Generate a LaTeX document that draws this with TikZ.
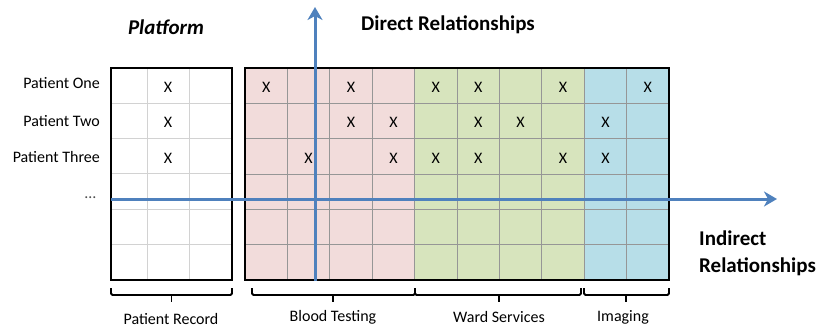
\documentclass[tikz,border=0pt]{standalone}
\usepackage{fontspec}
\setmainfont{Carlito}
\usetikzlibrary{arrows.meta}
\definecolor{pinkfill}{RGB}{242,220,219}
\definecolor{greenfill}{RGB}{215,228,189}
\definecolor{bluefill}{RGB}{183,222,232}
\definecolor{axisblue}{RGB}{79,129,189}
\definecolor{gridlight}{RGB}{210,210,210}
\definecolor{griddark}{RGB}{150,150,150}
\tikzset{
  smalltext/.style={font=\fontsize{16}{19}\selectfont, inner sep=0pt},
  titletext/.style={font=\fontsize{21}{27}\selectfont\bfseries, inner sep=0pt},
  tick/.style={smalltext},
  frame/.style={line width=2pt, black},
  axis/.style={line width=3pt, axisblue, -{Stealth[length=13pt,width=15pt,inset=4pt]}},
  bracket/.style={line width=1.8pt, black, rounded corners=1.5pt}
}
\begin{document}
\begin{tikzpicture}[x=1pt,y=-1pt]
\useasboundingbox (0,0) rectangle (819,327);

% --- platform table (patient record) ---
\fill[white] (111,68) rectangle (232,280);
\foreach \cx in {147,189} \draw[gridlight, line width=1pt] (\cx,68) -- (\cx,280);
\foreach \r in {1,...,5} \draw[gridlight, line width=1pt] (111,68+35.33*\r) -- (232,68+35.33*\r);
\draw[frame] (111,68) rectangle (232,280);

% --- relationship table: blood testing, ward services, imaging ---
\fill[pinkfill]  (245,68) rectangle (415,280);
\fill[greenfill] (415,68) rectangle (584,280);
\fill[bluefill]  (584,68) rectangle (669,280);
\foreach \c in {1,...,9} \draw[griddark, line width=0.9pt] (245+42.4*\c,68) -- (245+42.4*\c,280);
\foreach \r in {1,...,5} \draw[griddark, line width=0.9pt] (245,68+35.33*\r) -- (669,68+35.33*\r);
\draw[frame] (245,68) rectangle (669,280);

% --- row labels ---
\node[smalltext, anchor=east] (p1) at (100,83) {Patient One};
\node[smalltext, anchor=east] (p2) at (100,121) {Patient Two};
\node[smalltext, anchor=east] (p3) at (100,157) {Patient Three};
\node[smalltext, anchor=east, text=black!70] (pmore) at (96,198) {…};

% --- marks in the platform table ---
\foreach \r in {1,2,3}
  \node[tick] (pr\r) at (168,50.5+35.33*\r+1.5) {X};

% --- marks in the relationship table (column/row) ---
\foreach \c/\r in {1/1,3/1,5/1,6/1,8/1,10/1,
                   3/2,4/2,6/2,7/2,9/2,
                   2/3,4/3,5/3,6/3,8/3,9/3}
  \node[tick] (m\c-\r) at (245+42.4*\c-21.2,50.5+35.33*\r+1.5) {X};

% --- axes ---
\coordinate (vbot) at (315,281);
\coordinate (vtop) at (315,7);
\coordinate (hleft) at (111,199);
\coordinate (hright) at (777,199);
\draw[axis] (vbot) -- (vtop);
\draw[axis] (hleft) -- (hright);

% --- titles ---
\node[titletext, font=\fontsize{21}{27}\selectfont\bfseries\itshape] (platform) at (166,27) {Platform};
\node[titletext] (direct) at (448,25) {Direct Relationships};
\node[titletext, anchor=west, align=left] (indirect) at (699,253) {Indirect\\Relationships};

% --- group brackets ---
\draw[bracket] (111,288) -- (111,295) -- (232,295) -- (232,288);
\draw[bracket] (171.5,295) -- (171.5,302);
\draw[bracket] (252,288) -- (252,295) -- (415,295) -- (415,288);
\draw[bracket] (333,295) -- (333,302);
\draw[bracket] (415,288) -- (415,295) -- (581,295) -- (581,288);
\draw[bracket] (499,295) -- (499,302);
\draw[bracket] (584,288) -- (584,295) -- (669,295) -- (669,288);
\draw[bracket] (626,295) -- (626,302);

% --- group labels ---
\node[smalltext] (grecord) at (171,319) {Patient Record};
\node[smalltext] (gblood) at (333,317) {Blood Testing};
\node[smalltext] (gward) at (499,317) {Ward Services};
\node[smalltext] (gimaging) at (623,317) {Imaging};
\end{tikzpicture}
\end{document}
